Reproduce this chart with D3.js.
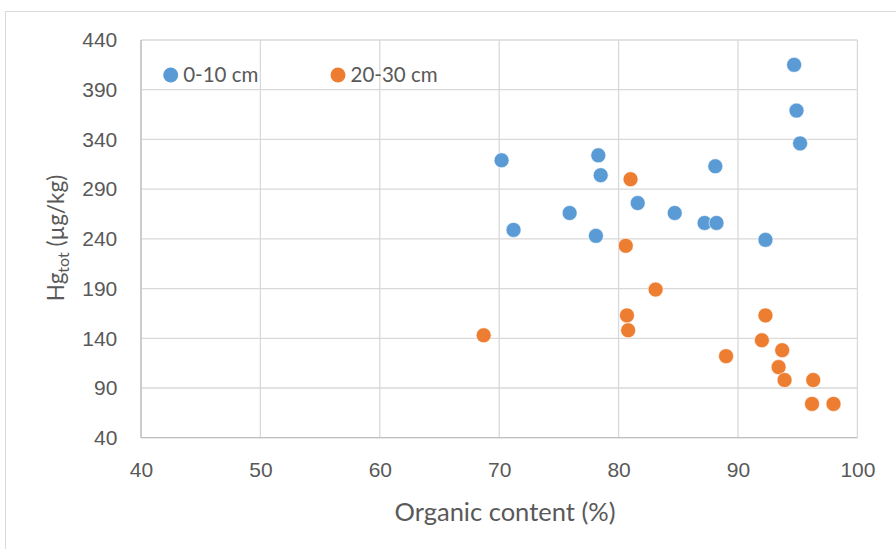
<!DOCTYPE html>
<html>
<head>
<meta charset="utf-8">
<script src="https://cdn.jsdelivr.net/npm/d3@7"></script>
<style>
  html, body { margin: 0; padding: 0; background: #fff; }
  svg { display: block; font-family: Lato, "Open Sans", sans-serif; }
  .grid line { stroke: #d9d9d9; stroke-width: 1.3; }
  .axis path, .axis line { display: none; }
  .axis text { fill: #595959; font-size: 21px; }
</style>
</head>
<body>
<script>
// Series data: organic content (%) vs Hg_tot (µg/kg)
const seriesNames = ['0-10 cm', '20-30 cm'];
const seriesColors = ['#5b9bd5', '#ed7d31'];

const shallowX = [94.7, 94.9, 95.2, 70.2, 78.3, 78.5, 88.1, 81.6, 75.9, 84.7, 87.2, 88.2, 71.2, 78.1, 92.3];
const shallowY = [415, 369, 336, 319, 324, 304, 313, 276, 266, 266, 256, 256, 249, 243, 239];

const deepX = [81.0, 80.6, 83.1, 80.7, 80.8, 68.7, 92.3, 92.0, 93.7, 89.0, 93.4, 93.9, 96.3, 96.2, 98.0];
const deepY = [300, 233, 189, 163, 148, 143, 163, 138, 128, 122, 111, 98, 98, 74, 74];

const xTicks = [40, 50, 60, 70, 80, 90, 100];
const yTicks = [40, 90, 140, 190, 240, 290, 340, 390, 440];

const width = 896, height = 549;
const plot = { left: 141, right: 857.4, top: 40, bottom: 437.7 };

const svg = d3.select('body').append('svg')
  .attr('width', width)
  .attr('height', height);

// chart frame (partly cut off by the window)
svg.append('rect')
  .attr('x', 5.5).attr('y', 11.5)
  .attr('width', 900).attr('height', 560)
  .attr('fill', '#fff')
  .attr('stroke', '#d9d9d9')
  .attr('stroke-width', 1);

const x = d3.scaleLinear().domain([40, 100]).range([plot.left, plot.right]);
const y = d3.scaleLinear().domain([40, 440]).range([plot.bottom, plot.top]);

// gridlines
const grid = svg.append('g').attr('class', 'grid');
grid.selectAll('.gx').data(xTicks).enter().append('line')
  .attr('x1', d => x(d)).attr('x2', d => x(d))
  .attr('y1', plot.top).attr('y2', plot.bottom);
grid.selectAll('.gy').data(yTicks).enter().append('line')
  .attr('y1', d => y(d)).attr('y2', d => y(d))
  .attr('x1', plot.left).attr('x2', plot.right);

// axis lines
svg.append('line')
  .attr('x1', plot.left).attr('x2', plot.right)
  .attr('y1', plot.bottom).attr('y2', plot.bottom)
  .attr('stroke', '#bfbfbf').attr('stroke-width', 1.3);
svg.append('line')
  .attr('x1', plot.left).attr('x2', plot.left)
  .attr('y1', plot.top).attr('y2', plot.bottom)
  .attr('stroke', '#bfbfbf').attr('stroke-width', 1.3);

// axes
svg.append('g')
  .attr('class', 'axis')
  .attr('transform', `translate(0, ${plot.bottom})`)
  .call(d3.axisBottom(x).tickValues(xTicks).tickSize(0).tickPadding(24));

svg.append('g')
  .attr('class', 'axis')
  .attr('transform', `translate(${plot.left}, 0)`)
  .call(d3.axisLeft(y).tickValues(yTicks).tickSize(0).tickPadding(23.7));

// axis titles
svg.append('text')
  .attr('x', 505).attr('y', 521)
  .attr('text-anchor', 'middle')
  .attr('fill', '#595959')
  .attr('font-size', 25.5)
  .text('Organic content (%)');

const yTitle = svg.append('text')
  .attr('transform', 'translate(64, 238) rotate(-90)')
  .attr('text-anchor', 'middle')
  .attr('fill', '#595959')
  .attr('font-size', 22.5);
yTitle.append('tspan').text('Hg');
yTitle.append('tspan').attr('font-size', 16).attr('dy', 5).text('tot');
yTitle.append('tspan').attr('dy', -5).text(' (µg/kg)');

// points
const series = [
  shallowX.map((v, i) => ({ x: v, y: shallowY[i] })),
  deepX.map((v, i) => ({ x: v, y: deepY[i] }))
];

series.forEach((pts, s) => {
  svg.append('g').selectAll('circle')
    .data(pts)
    .enter()
    .append('circle')
    .attr('cx', d => x(d.x))
    .attr('cy', d => y(d.y))
    .attr('r', 7.5)
    .attr('fill', seriesColors[s])
    .attr('stroke', '#fff')
    .attr('stroke-width', 0.6);
});

// legend
const legendX = [170.7, 338];
seriesNames.forEach((name, i) => {
  const g = svg.append('g').attr('transform', `translate(${legendX[i]}, 75)`);
  g.append('circle').attr('r', 7.5).attr('fill', seriesColors[i]);
  g.append('text')
    .attr('x', 12.5).attr('y', 7.3)
    .attr('fill', '#595959')
    .attr('font-size', 20.5)
    .text(name);
});
</script>
</body>
</html>
